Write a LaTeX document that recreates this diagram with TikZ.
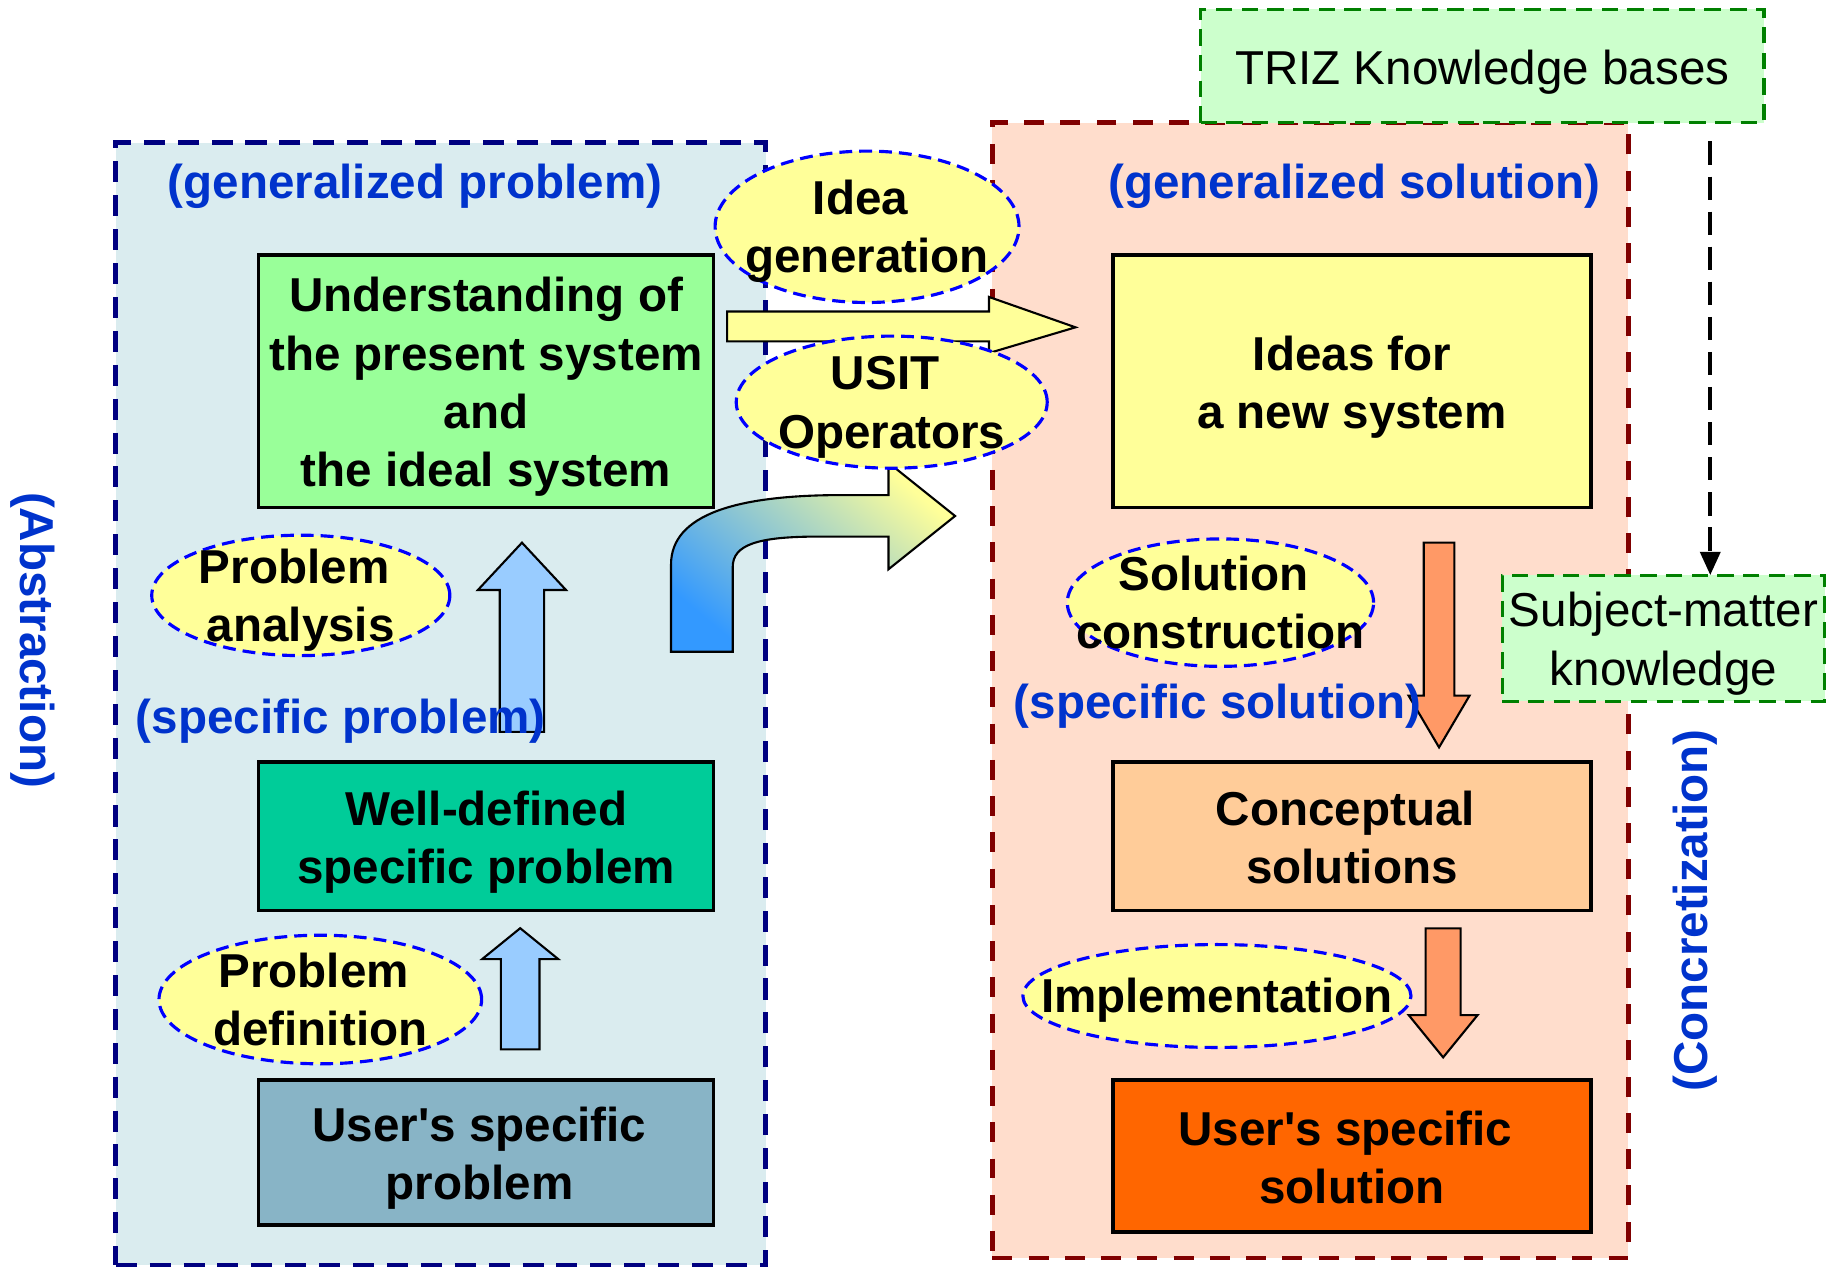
\documentclass[tikz,border=0pt]{standalone}
\usepackage{fontspec}
\setmainfont{Liberation Sans}
\usetikzlibrary{arrows.meta,shapes.geometric}

\definecolor{zoneblue}{HTML}{DAECEF}
\definecolor{zonesalmon}{HTML}{FFDDCC}
\definecolor{navyedge}{HTML}{000080}
\definecolor{maroonedge}{HTML}{800000}
\definecolor{understandgreen}{HTML}{99FF99}
\definecolor{welldefgreen}{HTML}{00CC99}
\definecolor{usergray}{HTML}{88B4C6}
\definecolor{ideayellow}{HTML}{FFFF99}
\definecolor{conceptpeach}{HTML}{FFCC99}
\definecolor{solorange}{HTML}{FF6600}
\definecolor{bubbleedge}{HTML}{0000FF}
\definecolor{labelblue}{HTML}{0033CC}
\definecolor{upblue}{HTML}{99CCFF}
\definecolor{downorange}{HTML}{FF9966}
\definecolor{kbfill}{HTML}{CCFFCC}
\definecolor{kbedge}{HTML}{008000}
\definecolor{bendblue}{HTML}{3399FF}

% space kept at the end of a broken line
\newcommand\trailsp{\kern.278em}

% vertical block arrow: style, x centre, tip y, head base y, tail y, head half-width, shaft half-width
\newcommand\vblockarrow[7]{%
  \draw[#1] ({#2-#7},#5) -- ({#2-#7},#4) -- ({#2-#6},#4) -- (#2,#3)
    -- ({#2+#6},#4) -- ({#2+#7},#4) -- ({#2+#7},#5) -- cycle;}

\begin{document}
\begin{tikzpicture}[x=1pt,y=-1pt,
  zone/.style={draw, line width=4pt, inner sep=0pt, outer sep=0pt},
  stage/.style={draw=black, line width=3pt, inner sep=0pt, outer sep=0pt},
  bubble/.style={ellipse, draw=bubbleedge, fill=ideayellow, line width=2.7pt,
    dash pattern=on 11pt off 6pt, inner sep=0pt, outer sep=0pt},
  bold text/.style={font=\fontsize{40.7}{49.8}\selectfont\bfseries, align=center, inner sep=0pt},
  plain text/.style={font=\fontsize{40.7}{50.5}\selectfont, align=center, inner sep=0pt},
  phase/.style={bold text, text=labelblue},
  kb/.style={draw=kbedge, fill=kbfill, line width=2.8pt, dash pattern=on 14pt off 8pt,
    inner sep=0pt, outer sep=0pt},
  uparrow/.style={draw=black, fill=upblue, line width=1.8pt},
  downarrow/.style={draw=black, fill=downorange, line width=1.8pt},
  flatarrow/.style={draw=black, fill=ideayellow, line width=1.8pt},
  kbarrow/.style={line width=3.6pt, dash pattern=on 20pt off 10pt,
    -{Triangle[width=17pt,length=20pt]}, shorten <=16pt},
]
\useasboundingbox (0,0) rectangle (1568,1085);

% problem and solution areas
\node[zone, draw=navyedge, fill=zoneblue, dash pattern=on 18pt off 11pt,
  minimum width=556pt, minimum height=960pt] (problemzone) at (377,602) {};
\node[zone, draw=maroonedge, fill=zonesalmon, dash pattern=on 17pt off 14pt,
  minimum width=544pt, minimum height=971pt] (solutionzone) at (1121,590.5) {};

% stages
\node[stage, fill=understandgreen, minimum width=389.5pt, minimum height=216pt] (understand) at (415.8,326) {};
\node[stage, fill=welldefgreen, minimum width=389.5pt, minimum height=127pt] (welldef) at (415.8,715.5) {};
\node[stage, fill=usergray, minimum width=389.5pt, minimum height=124pt] (userprob) at (415.8,986) {};
\node[stage, fill=ideayellow, minimum width=409pt, minimum height=216pt] (ideas) at (1156.5,326) {};
\node[stage, fill=conceptpeach, minimum width=409pt, minimum height=127pt] (concept) at (1156.5,715.5) {};
\node[stage, fill=solorange, minimum width=409pt, minimum height=130pt] (usersol) at (1156.5,989) {};

% block arrows between the stages
\vblockarrow{uparrow}{446.5}{464.2}{504.7}{626}{37.7}{19}
\vblockarrow{uparrow}{445}{794}{820.4}{897.6}{32.5}{16.5}
\vblockarrow{downarrow}{1231}{639.3}{595}{464.2}{26.1}{13.1}
\vblockarrow{downarrow}{1234.5}{904.5}{868.3}{794.1}{29.5}{15}
\draw[flatarrow] (622,266.5) -- (846,266.5) -- (846,254) -- (920,280)
  -- (846,302) -- (846,292) -- (622,292) -- cycle;
\draw[line width=1.8pt, bottom color=bendblue, top color=ideayellow, shading angle=-40]
  (574,557.5) -- (574,483) .. controls (574,440) and (630,423.5) .. (720,423.5)
  -- (760,423.5) -- (760,395.8) -- (817,441.4) -- (760,487) -- (760,459)
  -- (700,459) .. controls (648,459) and (626.8,466) .. (626.8,485)
  -- (626.8,557.5) -- cycle;

% activities
\node[bubble, minimum width=260pt, minimum height=129.5pt] (ideagen) at (741.7,194) {};
\node[bubble, minimum width=266pt, minimum height=113pt] (usitops) at (762.8,344) {};
\node[bubble, minimum width=255pt, minimum height=103pt] (probanal) at (257.3,509.3) {};
\node[bubble, minimum width=276pt, minimum height=110pt] (probdef) at (274,855) {};
\node[bubble, minimum width=262pt, minimum height=109pt] (solcons) at (1044,515.5) {};
\node[bubble, minimum width=332pt, minimum height=88pt] (implem) at (1041,852) {};

% stage texts
\node[bold text] (understand-t) at ([yshift=-5.5pt]understand.center)
  {\strut Understanding of\\the present system\\and\\the ideal system\strut};
\node[bold text] (welldef-t) at ([yshift=-5.5pt]welldef.center)
  {\strut Well-defined\\specific problem\strut};
\node[bold text] (userprob-t) at ([yshift=-5.5pt]userprob.center)
  {\strut User\textquotesingle s specific\trailsp\\problem\trailsp\strut};
\node[bold text] (ideas-t) at ([yshift=-5.5pt]ideas.center)
  {\strut Ideas for\\a new system\strut};
\node[bold text] (concept-t) at ([yshift=-5.5pt]concept.center)
  {\strut Conceptual\trailsp\\solutions\strut};
\node[bold text] (usersol-t) at ([yshift=-5.5pt]usersol.center)
  {\strut User\textquotesingle s specific\trailsp\\solution\strut};

% activity texts
\node[bold text] (ideagen-t) at ([yshift=-4.5pt]ideagen.center) {\strut Idea\trailsp\\generation\strut};
\node[bold text] (usitops-t) at ([yshift=-4.5pt]usitops.center) {\strut USIT\trailsp\\Operators\strut};
\node[bold text] (probanal-t) at ([yshift=-4.5pt]probanal.center) {\strut Problem\trailsp\\analysis\strut};
\node[bold text] (probdef-t) at ([yshift=-4.5pt]probdef.center) {\strut Problem\trailsp\\definition\strut};
\node[bold text] (solcons-t) at ([yshift=-4.5pt]solcons.center) {\strut Solution\trailsp\\construction\strut};
\node[bold text] (implem-t) at ([yshift=-4.5pt]implem.center) {\strut Implementation\strut};

% level labels
\node[phase] (genprob) at (355,159) {(generalized problem)};
\node[phase] (gensol) at (1158.5,159) {(generalized solution)};
\node[phase] (specprob) at (291.5,616.5) {(specific problem)};
\node[phase] (specsol) at (1041.5,604) {(specific solution)};
\node[phase, rotate=-90] (abstr) at (28,547.5) {(Abstraction)};
\node[phase, rotate=90] (concr) at (1450,779) {(Concretization)};

% knowledge sources
\node[kb, minimum width=482pt, minimum height=97pt] (triz) at (1268,56.5) {};
\node[plain text] (triz-t) at ([yshift=-5.5pt]triz.center) {\strut TRIZ Knowledge bases\strut};
\node[kb, minimum width=276pt, minimum height=108pt] (subj) at (1423,546) {};
\node[plain text] (subj-t) at ([yshift=-5pt]subj.center) {\strut Subject-matter\\knowledge\strut};
\coordinate (kbdrop) at (1463,0);
\draw[kbarrow] (triz.south -| kbdrop) -- (subj.north -| kbdrop);
\end{tikzpicture}
\end{document}
